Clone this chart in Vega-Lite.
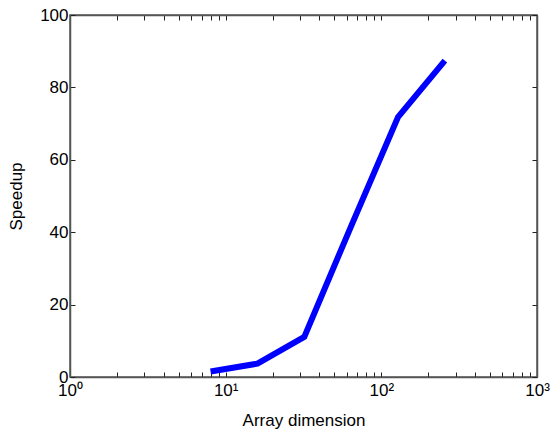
{
  "$schema": "https://vega.github.io/schema/vega-lite/v6.json",
  "width": 467,
  "height": 362,
  "autosize": {"type": "none"},
  "padding": {"left": 70, "top": 15, "right": 16, "bottom": 56},
  "background": "white",
  "config": {
    "font": "Liberation Sans",
    "view": {"stroke": "#555555", "strokeWidth": 1.5},
    "axis": {
      "grid": false,
      "domainColor": "#555555",
      "domainWidth": 1.5,
      "tickColor": "#222222",
      "tickSize": -5,
      "labelFont": "Liberation Sans",
      "labelFontSize": 17,
      "labelColor": "#000000",
      "titleFont": "Liberation Sans",
      "titleFontSize": 17,
      "titleFontWeight": "normal",
      "titleColor": "#000000"
    }
  },
  "data": {
    "values": [
      {"n": 8, "speedup": 1.5},
      {"n": 16, "speedup": 3.7},
      {"n": 32, "speedup": 11.1},
      {"n": 64, "speedup": 41.7},
      {"n": 128, "speedup": 71.8},
      {"n": 256, "speedup": 87.4}
    ]
  },
  "layer": [
    {
      "mark": {"type": "line", "color": "#0000ff", "strokeWidth": 6, "strokeCap": "butt", "strokeJoin": "miter"},
      "encoding": {
        "x": {
          "field": "n", "type": "quantitative",
          "scale": {"type": "log", "domain": [1, 1000], "nice": false},
          "axis": {
            "orient": "bottom",
            "title": "Array dimension",
            "titlePadding": 14,
            "values": [1,2,3,4,5,6,7,8,9,10,20,30,40,50,60,70,80,90,100,200,300,400,500,600,700,800,900,1000],
            "labelExpr": "datum.value == 1 ? '10⁰' : datum.value == 10 ? '10¹' : datum.value == 100 ? '10²' : datum.value == 1000 ? '10³' : ''",
            "labelPadding": 10,
            "labelFlush": false,
            "labelOverlap": false
          }
        },
        "y": {
          "field": "speedup", "type": "quantitative",
          "scale": {"domain": [0, 100], "nice": false},
          "axis": {
            "orient": "left",
            "title": "Speedup",
            "values": [0, 20, 40, 60, 80, 100],
            "labelPadding": 7,
            "titlePadding": 14
          }
        }
      }
    },
    {
      "mark": {"type": "line", "opacity": 0},
      "encoding": {
        "x": {
          "field": "n", "type": "quantitative",
          "axis": {
            "orient": "top",
            "title": null,
            "labels": false,
            "values": [1,2,3,4,5,6,7,8,9,10,20,30,40,50,60,70,80,90,100,200,300,400,500,600,700,800,900,1000]
          }
        },
        "y": {
          "field": "speedup", "type": "quantitative",
          "axis": {
            "orient": "right",
            "title": null,
            "labels": false,
            "values": [0, 20, 40, 60, 80, 100]
          }
        }
      }
    }
  ],
  "resolve": {"axis": {"x": "independent", "y": "independent"}}
}
